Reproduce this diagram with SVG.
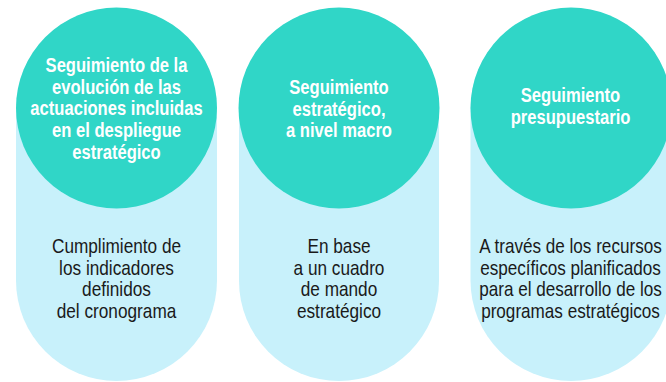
<svg xmlns="http://www.w3.org/2000/svg" width="666" height="382" viewBox="0 0 666 382">
<style>
.pill{fill:#C8F1FB}
.circ{fill:#30D6C7}
text{font-family:"Liberation Sans",Arial,sans-serif;text-anchor:middle;font-size:21px}
.h{fill:#FFFFFF;font-weight:bold}
.b{fill:#1A1A1A}
</style>
<rect width="666" height="382" fill="#FFFFFF"/>
<g id="node1">
<rect class="pill" x="16" y="8" width="201" height="373" rx="100.5" ry="100.5"/>
<circle class="circ" cx="116.5" cy="108" r="100.5"/>
<g transform="translate(116.5 0) scale(0.79 1)"><text class="h"><tspan x="0" y="72">Seguimiento de la</tspan><tspan x="0" y="93.7">evolución de las</tspan><tspan x="0" y="115.4">actuaciones incluidas</tspan><tspan x="0" y="137.1">en el despliegue</tspan><tspan x="0" y="158.8">estratégico</tspan></text></g>
<g transform="translate(116.5 0) scale(0.82 1)"><text class="b"><tspan x="0" y="253">Cumplimiento de</tspan><tspan x="0" y="274.7">los indicadores</tspan><tspan x="0" y="296.4">definidos</tspan><tspan x="0" y="318.1">del cronograma</tspan></text></g>
</g>
<g id="node2">
<rect class="pill" x="239" y="8" width="200" height="373" rx="100" ry="100"/>
<circle class="circ" cx="339" cy="108" r="100.5"/>
<g transform="translate(339 0) scale(0.79 1)"><text class="h"><tspan x="0" y="94">Seguimiento</tspan><tspan x="0" y="115.7">estratégico,</tspan><tspan x="0" y="137.4">a nivel macro</tspan></text></g>
<g transform="translate(339 0) scale(0.82 1)"><text class="b"><tspan x="0" y="253">En base</tspan><tspan x="0" y="274.7">a un cuadro</tspan><tspan x="0" y="296.4">de mando</tspan><tspan x="0" y="318.1">estratégico</tspan></text></g>
</g>
<g id="node3">
<rect class="pill" x="470.5" y="8" width="201" height="373" rx="100.5" ry="100.5"/>
<circle class="circ" cx="571" cy="108" r="100.5"/>
<g transform="translate(570.5 0) scale(0.79 1)"><text class="h"><tspan x="0" y="102">Seguimiento</tspan><tspan x="0" y="123.7">presupuestario</tspan></text></g>
<g transform="translate(570.5 0) scale(0.815 1)"><text class="b"><tspan x="0" y="253">A través de los recursos</tspan><tspan x="0" y="274.7">específicos planificados</tspan><tspan x="0" y="296.4">para el desarrollo de los</tspan><tspan x="0" y="318.1">programas estratégicos</tspan></text></g>
</g>
<g id="connectors"/>
</svg>
